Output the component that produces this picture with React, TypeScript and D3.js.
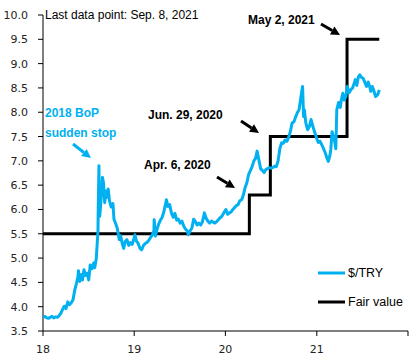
import React from "react";
import * as d3 from "d3";

const tryDates = [
  "2018-01-02","2018-01-09","2018-01-16","2018-01-23","2018-01-30","2018-02-06","2018-02-13","2018-02-20","2018-02-27",
  "2018-03-06","2018-03-13","2018-03-20","2018-03-27","2018-04-03","2018-04-10","2018-04-17","2018-04-24","2018-05-01",
  "2018-05-08","2018-05-15","2018-05-21","2018-05-23","2018-05-28","2018-06-04","2018-06-08","2018-06-14","2018-06-20",
  "2018-06-27","2018-07-03","2018-07-09","2018-07-16","2018-07-23","2018-07-27","2018-08-02","2018-08-06","2018-08-09",
  "2018-08-10","2018-08-13","2018-08-14","2018-08-16","2018-08-20","2018-08-27","2018-08-31","2018-09-05","2018-09-10",
  "2018-09-14","2018-09-19","2018-09-24","2018-10-01","2018-10-08","2018-10-12","2018-10-18","2018-10-25","2018-10-30",
  "2018-11-02","2018-11-08","2018-11-14","2018-11-20","2018-11-26","2018-12-03","2018-12-10","2018-12-17","2018-12-24",
  "2018-12-31",
  "2019-01-04","2019-01-10","2019-01-17","2019-01-24","2019-01-31","2019-02-07","2019-02-14","2019-02-21","2019-02-28",
  "2019-03-07","2019-03-14","2019-03-21","2019-03-22","2019-03-27","2019-04-02","2019-04-09","2019-04-16","2019-04-23",
  "2019-04-30","2019-05-07","2019-05-10","2019-05-16","2019-05-23","2019-05-30","2019-06-06","2019-06-13","2019-06-20",
  "2019-06-27","2019-07-04","2019-07-11","2019-07-18","2019-07-25","2019-08-01","2019-08-06","2019-08-13","2019-08-20",
  "2019-08-27","2019-09-03","2019-09-10","2019-09-17","2019-09-24","2019-10-01","2019-10-09","2019-10-16","2019-10-23",
  "2019-10-30","2019-11-06","2019-11-13","2019-11-20","2019-11-27","2019-12-04","2019-12-11","2019-12-18","2019-12-26",
  "2020-01-03","2020-01-10","2020-01-17","2020-01-24","2020-01-31","2020-02-07","2020-02-14","2020-02-21","2020-02-28",
  "2020-03-06","2020-03-13","2020-03-20","2020-03-27","2020-04-03","2020-04-10","2020-04-17","2020-04-24","2020-05-01",
  "2020-05-07","2020-05-14","2020-05-21","2020-05-28","2020-06-04","2020-06-11","2020-06-18","2020-06-25","2020-07-02",
  "2020-07-09","2020-07-16","2020-07-23","2020-07-30","2020-08-06","2020-08-13","2020-08-20","2020-08-27","2020-09-03",
  "2020-09-10","2020-09-17","2020-09-24","2020-10-01","2020-10-08","2020-10-15","2020-10-22","2020-10-29","2020-11-05",
  "2020-11-09","2020-11-12","2020-11-18","2020-11-25","2020-12-02","2020-12-09","2020-12-16","2020-12-23","2020-12-31",
  "2021-01-07","2021-01-14","2021-01-21","2021-01-28","2021-02-04","2021-02-11","2021-02-16","2021-02-22","2021-02-26",
  "2021-03-03","2021-03-08","2021-03-12","2021-03-18","2021-03-22","2021-03-29","2021-04-05","2021-04-09","2021-04-15",
  "2021-04-21","2021-04-27","2021-05-03","2021-05-10","2021-05-17","2021-05-24","2021-05-31","2021-06-04","2021-06-10",
  "2021-06-16","2021-06-22","2021-06-28","2021-07-05","2021-07-12","2021-07-19","2021-07-26","2021-08-02","2021-08-05",
  "2021-08-11","2021-08-17","2021-08-24","2021-08-31","2021-09-03","2021-09-08",
];

const tryValues = [
  3.78,3.80,3.77,3.76,3.78,3.80,3.77,3.79,3.78,
  3.81,3.86,3.94,4.01,3.96,4.10,4.04,4.08,4.14,
  4.34,4.48,4.62,4.74,4.52,4.66,4.55,4.76,4.64,
  4.69,4.55,4.86,4.78,4.90,4.80,4.98,5.30,5.55,
  6.00,6.90,6.20,5.86,6.10,6.66,6.55,6.14,6.38,
  6.25,6.42,6.18,6.05,6.12,5.80,5.72,5.62,5.48,
  5.38,5.46,5.30,5.20,5.34,5.38,5.26,5.32,5.28,
  5.40,
  5.48,5.35,5.30,5.20,5.17,5.26,5.30,5.32,5.36,
  5.42,5.47,5.56,5.79,5.45,5.58,5.70,5.78,5.84,
  5.96,6.12,6.20,6.06,6.10,5.93,5.84,5.92,5.78,
  5.80,5.72,5.76,5.66,5.60,5.56,5.48,5.56,5.62,
  5.80,5.75,5.68,5.72,5.68,5.74,5.93,5.82,5.76,
  5.72,5.76,5.74,5.72,5.75,5.79,5.83,5.86,5.93,
  6.00,5.90,5.93,5.95,6.00,6.04,6.08,6.10,6.18,
  6.20,6.30,6.45,6.55,6.72,6.80,6.88,7.00,7.05,
  7.20,7.02,6.84,6.80,6.76,6.82,6.84,6.86,6.85,
  6.86,6.89,6.88,7.00,7.25,7.37,7.36,7.43,7.40,
  7.48,7.60,7.78,7.80,7.90,7.99,8.05,8.30,8.53,
  7.91,8.05,7.78,7.64,7.70,7.85,7.71,7.60,7.47,
  7.38,7.40,7.33,7.25,7.16,7.05,6.99,7.10,7.23,
  7.60,7.50,7.45,7.25,8.05,8.20,8.10,8.25,8.39,
  8.25,8.32,8.53,8.40,8.46,8.50,8.60,8.67,8.55,
  8.72,8.77,8.72,8.70,8.62,8.53,8.62,8.50,8.43,
  8.53,8.45,8.32,8.35,8.38,8.46,
];

const fairDates = ["2018-01-01", "2020-04-06", "2020-06-29", "2021-05-02", "2021-09-08"];
const fairValues = [5.5, 6.3, 7.5, 9.5, 9.5];

const yTicks = [3.5, 4.0, 4.5, 5.0, 5.5, 6.0, 6.5, 7.0, 7.5, 8.0, 8.5, 9.0, 9.5, 10.0];
const xTickDates = ["2018-01-01", "2019-01-01", "2020-01-01", "2021-01-01", "2022-01-01"];
const xTickLabels = ["18", "19", "20", "21", ""];

const BLUE = "#00B0F0";
const W = 414;
const H = 360;
const parse = d3.timeParse("%Y-%m-%d");

export default function App() {
  const x = d3
    .scaleTime()
    .domain([parse("2018-01-01")!, parse("2022-01-01")!])
    .range([43, 408]);
  const y = d3.scaleLinear().domain([3.5, 10]).range([331, 15]);

  const tryData = tryDates.map((d, i) => ({ d: parse(d)!, v: tryValues[i] }));
  const fairData = fairDates.map((d, i) => ({ d: parse(d)!, v: fairValues[i] }));

  const line = d3
    .line<{ d: Date; v: number }>()
    .x((p) => x(p.d))
    .y((p) => y(p.v));
  const stepLine = d3
    .line<{ d: Date; v: number }>()
    .x((p) => x(p.d))
    .y((p) => y(p.v))
    .curve(d3.curveStepAfter);

  const tickFont = "'DejaVu Sans', Verdana, sans-serif";
  const txtFont = "'Liberation Sans', Arial, sans-serif";

  const arrow = (x1: number, y1: number, x2: number, y2: number, color: string) => {
    const ang = Math.atan2(y2 - y1, x2 - x1);
    const len = 9;
    const wid = 4.5;
    const bx = x2 - len * Math.cos(ang);
    const by = y2 - len * Math.sin(ang);
    const px = -Math.sin(ang) * wid;
    const py = Math.cos(ang) * wid;
    return (
      <g>
        <line x1={x1} y1={y1} x2={bx} y2={by} stroke={color} strokeWidth={3} />
        <polygon points={`${x2},${y2} ${bx + px},${by + py} ${bx - px},${by - py}`} fill={color} />
      </g>
    );
  };

  return (
    <svg width={W} height={H} style={{ position: "absolute", left: 0, top: 0, background: "#fff" }}>
      {/* axes */}
      <line x1={43} y1={15} x2={43} y2={331} stroke="#000" strokeWidth={1} />
      <line x1={43} y1={331} x2={408} y2={331} stroke="#000" strokeWidth={1} />
      {yTicks.map((t) => (
        <g key={t}>
          <line x1={38} x2={43} y1={y(t)} y2={y(t)} stroke="#000" />
          <text x={28} y={y(t) + 4} textAnchor="end" fontSize={11} fontFamily={tickFont} fill="#222">
            {t.toFixed(1)}
          </text>
        </g>
      ))}
      {xTickDates.map((d, i) => (
        <g key={d}>
          <line x1={x(parse(d)!)} x2={x(parse(d)!)} y1={331} y2={336} stroke="#000" />
          <text x={x(parse(d)!)} y={353} textAnchor="middle" fontSize={11} fontFamily={tickFont} fill="#222">
            {xTickLabels[i]}
          </text>
        </g>
      ))}

      {/* series */}
      <path d={stepLine(fairData) ?? ""} fill="none" stroke="#000" strokeWidth={3} />
      <path d={line(tryData) ?? ""} fill="none" stroke={BLUE} strokeWidth={3} strokeLinejoin="round" />

      {/* annotations */}
      <text x={45} y={19} fontSize={12} fontFamily={txtFont} fill="#000">
        Last data point: Sep. 8, 2021
      </text>
      <text x={248} y={24} fontSize={12} fontWeight="bold" fontFamily={txtFont} fill="#000">
        May 2, 2021
      </text>
      {arrow(321, 24, 340, 35, "#000")}
      <text x={148} y={119} fontSize={12} fontWeight="bold" fontFamily={txtFont} fill="#000">
        Jun. 29, 2020
      </text>
      {arrow(241, 121, 259, 133, "#000")}
      <text x={144} y={169} fontSize={12} fontWeight="bold" fontFamily={txtFont} fill="#000">
        Apr. 6, 2020
      </text>
      {arrow(217, 177, 235, 188, "#000")}
      <text x={45} y={117} fontSize={12} fontWeight="bold" fontFamily={txtFont} fill={BLUE}>
        2018 BoP
      </text>
      <text x={45} y={137} fontSize={12} fontWeight="bold" fontFamily={txtFont} fill={BLUE}>
        sudden stop
      </text>
      {arrow(73, 144, 91, 158, BLUE)}

      {/* legend */}
      <line x1={318} x2={345} y1={273} y2={273} stroke={BLUE} strokeWidth={3} />
      <text x={348} y={277} fontSize={12.5} fontFamily={txtFont} fill="#000">
        $/TRY
      </text>
      <line x1={318} x2={345} y1={302} y2={302} stroke="#000" strokeWidth={3} />
      <text x={348} y={306} fontSize={12.5} fontFamily={txtFont} fill="#000">
        Fair value
      </text>
    </svg>
  );
}
